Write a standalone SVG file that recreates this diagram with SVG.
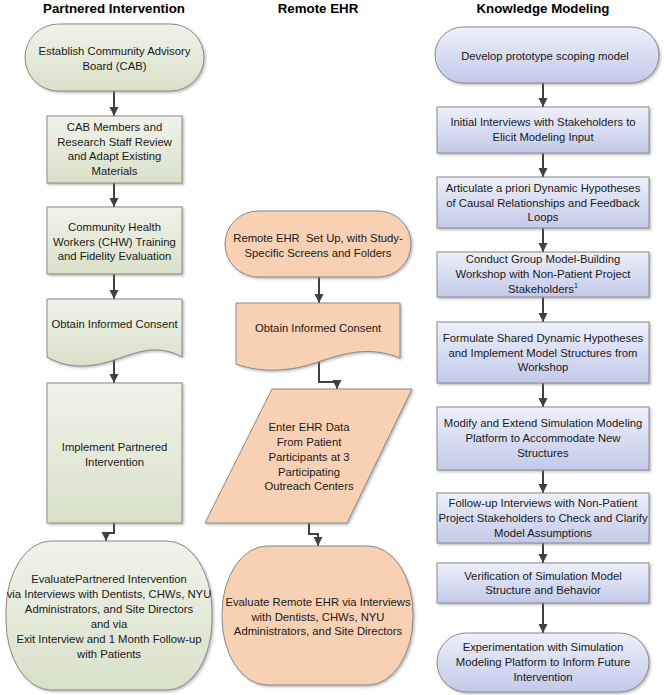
<svg xmlns="http://www.w3.org/2000/svg" width="664" height="695" viewBox="0 0 664 695">
<defs>
<linearGradient id="gG" x1="0" y1="0" x2="0" y2="1"><stop offset="0" stop-color="#f1f3ea"/><stop offset="1" stop-color="#d9e0c8"/></linearGradient>
<linearGradient id="gB" x1="0" y1="0" x2="0" y2="1"><stop offset="0" stop-color="#eef0fa"/><stop offset="1" stop-color="#c3c9e9"/></linearGradient>
<filter id="sh" x="-10%" y="-10%" width="120%" height="130%"><feDropShadow dx="1.5" dy="1.5" stdDeviation="1" flood-color="#7a7a7a" flood-opacity="0.5"/></filter>
<marker id="ar" markerUnits="userSpaceOnUse" markerWidth="10" markerHeight="10" refX="9" refY="4.5" orient="auto"><path d="M0,0 L9,4.5 L0,9 z" fill="#404040"/></marker>
<style>
.h{font-family:"Liberation Sans",Arial,sans-serif;font-size:13.3px;font-weight:bold;fill:#000;text-anchor:middle}
.t{font-family:"Liberation Sans",Arial,sans-serif;font-size:11.3px;fill:#1a1a1a;text-anchor:middle}
.g{fill:url(#gG);stroke:#8a8a8a;stroke-width:1;filter:url(#sh)}
.b{fill:url(#gB);stroke:#8a8a8a;stroke-width:1;filter:url(#sh)}
.o{fill:#f8d0b3;stroke:#8a8a8a;stroke-width:1;filter:url(#sh)}
.c{fill:none;stroke:#404040;stroke-width:2;marker-end:url(#ar)}
</style>
</defs>
<rect width="664" height="695" fill="#ffffff"/>
<g id="headers">
<text class="h" x="114" y="13">Partnered Intervention</text>
<text class="h" x="318" y="13">Remote EHR</text>
<text class="h" x="543" y="13">Knowledge Modeling</text>
</g>
<g id="connectors">
<path class="c" d="M114,91 V116"/>
<path class="c" d="M114,183 V207"/>
<path class="c" d="M114,274 V299"/>
<path class="c" d="M114,358 V383"/>
<path class="c" d="M114,523 V533 H106 V541"/>
<path class="c" d="M319,277 V303"/>
<path class="c" d="M319,362 V382 H337 V389"/>
<path class="c" d="M309,523 V534 H318 V546"/>
<path class="c" d="M543,83 V107"/>
<path class="c" d="M543,153 V177"/>
<path class="c" d="M543,228 V252"/>
<path class="c" d="M543,297 V322"/>
<path class="c" d="M543,383 V407"/>
<path class="c" d="M543,470 V493"/>
<path class="c" d="M543,543 V563"/>
<path class="c" d="M543,603 V633"/>
</g>
<g id="p1"><rect class="g" x="25" y="24" width="179" height="67" rx="33.5" ry="33.5"/>
<text class="t" x="114.5" y="55">Establish Community Advisory</text><text class="t" x="114.5" y="70">Board (CAB)</text></g>
<g id="p2"><rect class="g" x="47" y="116" width="135" height="67"/>
<text class="t" x="114.5" y="131">CAB Members and</text><text class="t" x="114.5" y="145.5">Research Staff Review</text><text class="t" x="114.5" y="160">and Adapt Existing</text><text class="t" x="114.5" y="174.5">Materials</text></g>
<g id="p3"><rect class="g" x="47" y="207" width="135" height="67"/>
<text class="t" x="114.5" y="231">Community Health</text><text class="t" x="114.5" y="245.5">Workers (CHW) Training</text><text class="t" x="114.5" y="260">and Fidelity Evaluation</text></g>
<g id="p4"><path class="g" d="M47,299 H182 V357 C158,344 140,351 114,360 C90,368 68,369 47,357 Z"/>
<text class="t" x="114.5" y="328">Obtain Informed Consent</text></g>
<g id="p5"><rect class="g" x="47" y="383" width="135" height="140"/>
<text class="t" x="114.5" y="451">Implement Partnered</text><text class="t" x="114.5" y="465.5">Intervention</text></g>
<g id="p6"><rect class="g" x="6" y="541" width="206" height="149" rx="45" ry="70"/>
<text class="t" x="109" y="583">EvaluatePartnered Intervention</text><text class="t" x="109" y="598">via Interviews with Dentists, CHWs, NYU</text><text class="t" x="109" y="613">Administrators, and Site Directors</text><text class="t" x="109" y="628">and via</text><text class="t" x="109" y="643">Exit Interview and 1 Month Follow-up</text><text class="t" x="109" y="658">with Patients</text></g>
<g id="r1"><rect class="o" x="225" y="211" width="186" height="66" rx="33" ry="33"/>
<text class="t" x="318" y="242">Remote EHR&#160; Set Up, with Study-</text><text class="t" x="318" y="257">Specific Screens and Folders</text></g>
<g id="r2"><path class="o" d="M236,303 H400 V358 C372,347 350,351 318,362 C290,372 260,373 236,364 Z"/>
<text class="t" x="318" y="332">Obtain Informed Consent</text></g>
<g id="r3"><path class="o" d="M272,389 H412 L347,523 H205 Z"/>
<text class="t" x="309" y="431">Enter EHR Data</text><text class="t" x="309" y="446">From Patient</text><text class="t" x="309" y="461">Participants at 3</text><text class="t" x="309" y="476">Participating</text><text class="t" x="309" y="490">Outreach Centers</text></g>
<g id="r4"><rect class="o" x="222" y="546" width="191" height="139" rx="45" ry="68"/>
<text class="t" x="318" y="606">Evaluate Remote EHR via Interviews</text><text class="t" x="318" y="621">with Dentists, CHWs, NYU</text><text class="t" x="318" y="635">Administrators, and Site Directors</text></g>
<g id="k1"><rect class="b" x="435" y="27" width="224" height="56" rx="28" ry="28"/>
<text class="t" x="545" y="60">Develop prototype scoping model</text></g>
<g id="k2"><rect class="b" x="437" y="107" width="212" height="46"/>
<text class="t" x="543" y="126">Initial Interviews with Stakeholders to</text><text class="t" x="543" y="141">Elicit Modeling Input</text></g>
<g id="k3"><rect class="b" x="437" y="177" width="212" height="51"/>
<text class="t" x="543" y="192">Articulate a priori Dynamic Hypotheses</text><text class="t" x="543" y="206.5">of Causal Relationships and Feedback</text><text class="t" x="543" y="221">Loops</text></g>
<g id="k4"><rect class="b" x="437" y="252" width="212" height="45"/>
<text class="t" x="543" y="263">Conduct Group Model-Building</text><text class="t" x="543" y="278">Workshop with Non-Patient Project</text><text class="t" x="543" y="293">Stakeholders<tspan font-size="7" dy="-5">1</tspan></text></g>
<g id="k5"><rect class="b" x="437" y="322" width="212" height="61"/>
<text class="t" x="543" y="342">Formulate Shared Dynamic Hypotheses</text><text class="t" x="543" y="356.5">and Implement Model Structures from</text><text class="t" x="543" y="371">Workshop</text></g>
<g id="k6"><rect class="b" x="437" y="407" width="212" height="63"/>
<text class="t" x="543" y="427">Modify and Extend Simulation Modeling</text><text class="t" x="543" y="442">Platform to Accommodate New</text><text class="t" x="543" y="457">Structures</text></g>
<g id="k7"><rect class="b" x="437" y="493" width="212" height="50"/>
<text class="t" x="543" y="507">Follow-up Interviews with Non-Patient</text><text class="t" x="543" y="522">Project Stakeholders to Check and Clarify</text><text class="t" x="543" y="537">Model Assumptions</text></g>
<g id="k8"><rect class="b" x="437" y="563" width="212" height="40"/>
<text class="t" x="543" y="580">Verification of Simulation Model</text><text class="t" x="543" y="594">Structure and Behavior</text></g>
<g id="k9"><rect class="b" x="437" y="633" width="212" height="59" rx="29.5" ry="29.5"/>
<text class="t" x="543" y="651">Experimentation with Simulation</text><text class="t" x="543" y="666">Modeling Platform to Inform Future</text><text class="t" x="543" y="681">Intervention</text></g>
</svg>
